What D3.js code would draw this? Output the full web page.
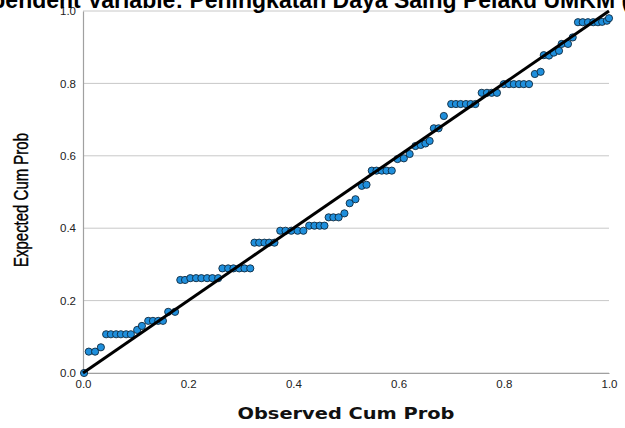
<!DOCTYPE html>
<html>
<head>
<meta charset="utf-8">
<script src="https://cdn.jsdelivr.net/npm/d3@7"></script>
<style>
  body { margin: 0; background: #fff; }
  svg { display: block; font-family: "Liberation Sans", Arial, sans-serif; }
</style>
</head>
<body>
<svg id="chart" width="625" height="428"></svg>
<script>
// Observed cum prob (x) and expected cum prob (y)
const observed = [
  0.002, 0.011, 0.023, 0.034,
  0.044, 0.053, 0.063, 0.072, 0.082, 0.091,
  0.103, 0.112,
  0.124, 0.133, 0.143, 0.152,
  0.162, 0.175,
  0.185, 0.194,
  0.204, 0.215, 0.225, 0.236, 0.246, 0.257,
  0.265, 0.276, 0.286, 0.297, 0.307, 0.318,
  0.326, 0.335, 0.345, 0.354, 0.364,
  0.375, 0.385, 0.396, 0.408, 0.419,
  0.430, 0.440, 0.450, 0.459,
  0.467, 0.476, 0.486,
  0.497, 0.507, 0.518, 0.530, 0.539,
  0.549, 0.558, 0.568, 0.577, 0.587,
  0.598, 0.610, 0.621,
  0.632, 0.642, 0.651, 0.659,
  0.667, 0.676, 0.686,
  0.700, 0.709, 0.718, 0.728, 0.737, 0.746,
  0.758, 0.768, 0.777, 0.787,
  0.800, 0.810, 0.819, 0.829, 0.838, 0.848,
  0.859, 0.870, 0.876, 0.886, 0.895, 0.905,
  0.910, 0.922, 0.931,
  0.941, 0.950, 0.960, 0.970, 0.979,
  0.987, 0.996, 1.000
];
const expected = [
  0.000, 0.059, 0.059, 0.071,
  0.107, 0.107, 0.107, 0.107, 0.107, 0.107,
  0.119, 0.130,
  0.144, 0.144, 0.144, 0.144,
  0.169, 0.169,
  0.257, 0.257,
  0.262, 0.262, 0.262, 0.262, 0.262, 0.262,
  0.289, 0.289, 0.289, 0.289, 0.289, 0.289,
  0.360, 0.360, 0.360, 0.360, 0.360,
  0.393, 0.393, 0.393, 0.393, 0.393,
  0.407, 0.407, 0.407, 0.407,
  0.430, 0.430, 0.430,
  0.441, 0.469, 0.480, 0.517, 0.520,
  0.559, 0.559, 0.559, 0.559, 0.559,
  0.591, 0.593, 0.605,
  0.627, 0.630, 0.634, 0.641,
  0.676, 0.676, 0.710,
  0.743, 0.743, 0.743, 0.743, 0.743, 0.743,
  0.774, 0.774, 0.774, 0.774,
  0.798, 0.798, 0.798, 0.798, 0.798, 0.798,
  0.826, 0.832, 0.878, 0.877, 0.885, 0.890,
  0.909, 0.909, 0.927,
  0.969, 0.969, 0.969, 0.969, 0.969,
  0.970, 0.973, 0.980
];
const tickValues = [0, 0.2, 0.4, 0.6, 0.8, 1.0];
const diagonal = [[0, 0], [1, 1]];

const titleText = "Dependent Variable: Peningkatan Daya Saing Pelaku UMKM (Y)";
const xTitle = "Observed Cum Prob";
const yTitle = "Expected Cum Prob";

const margin = {left: 83, top: 11, right: 16, bottom: 55};
const width = 625 - margin.left - margin.right;
const height = 428 - margin.top - margin.bottom;

const svg = d3.select("#chart");

const x = d3.scaleLinear().domain([0, 1]).range([0, width]);
const y = d3.scaleLinear().domain([0, 1]).range([height, 0]);

const g = svg.append("g").attr("transform", `translate(${margin.left},${margin.top})`);

// horizontal grid
g.append("g")
  .selectAll("line")
  .data(tickValues)
  .join("line")
  .attr("x1", 0)
  .attr("x2", width)
  .attr("y1", d => y(d))
  .attr("y2", d => y(d))
  .attr("stroke", "#c8c8c8")
  .attr("stroke-width", 1);

// axes
const xAxis = d3.axisBottom(x).tickValues(tickValues).tickFormat(d3.format(".1f")).tickSize(0).tickPadding(7);
const yAxis = d3.axisLeft(y).tickValues(tickValues).tickFormat(d3.format(".1f")).tickSize(0).tickPadding(7);

const gx = g.append("g").attr("transform", `translate(0,${height})`).call(xAxis);
const gy = g.append("g").call(yAxis);

[gx, gy].forEach(a => {
  a.select(".domain").attr("stroke", "#a0a0a0").attr("stroke-width", 1.2);
  a.selectAll("text")
    .attr("font-size", 11.5)
    .attr("fill", "#222")
    .attr("font-family", "'Liberation Sans', Arial, sans-serif");
});

// points
g.append("g")
  .selectAll("circle")
  .data(observed.map((o, i) => [o, expected[i]]))
  .join("circle")
  .attr("cx", d => x(d[0]))
  .attr("cy", d => y(d[1]))
  .attr("r", 3.6)
  .attr("fill", "#1f8fdc")
  .attr("stroke", "#10293d")
  .attr("stroke-width", 0.9);

// reference line
g.append("path")
  .datum(diagonal)
  .attr("d", d3.line().x(d => x(d[0])).y(d => y(d[1])))
  .attr("stroke", "#000")
  .attr("stroke-width", 3)
  .attr("fill", "none");

// title (cut off at the top and sides like the original)
svg.append("text")
  .attr("x", 307)
  .attr("y", 8)
  .attr("text-anchor", "middle")
  .attr("font-size", 23)
  .attr("font-weight", "bold")
  .attr("fill", "#000")
  .text(titleText);

// axis titles
svg.append("text")
  .attr("x", 346)
  .attr("y", 419)
  .attr("text-anchor", "middle")
  .attr("font-size", 16)
  .attr("font-weight", "bold")
  .attr("font-family", "'DejaVu Sans', 'Liberation Sans', Arial, sans-serif")
  .attr("fill", "#111")
  .attr("textLength", 217)
  .attr("lengthAdjust", "spacingAndGlyphs")
  .text(xTitle);

svg.append("text")
  .attr("transform", "translate(28,200) rotate(-90)")
  .attr("text-anchor", "middle")
  .attr("font-size", 20)
  .attr("font-family", "'Liberation Sans Narrow', 'Liberation Sans', Arial, sans-serif")
  .attr("fill", "#000")
  .attr("stroke", "#000")
  .attr("stroke-width", 0.4)
  .attr("textLength", 134)
  .attr("lengthAdjust", "spacingAndGlyphs")
  .text(yTitle);
</script>
</body>
</html>
